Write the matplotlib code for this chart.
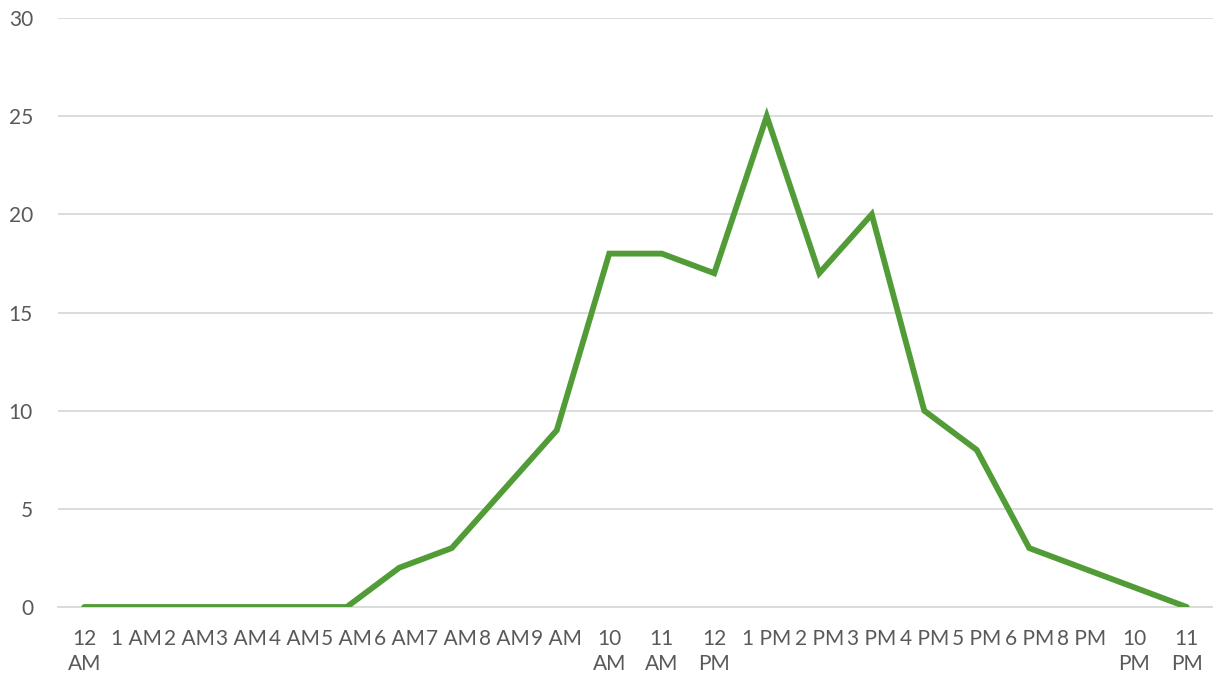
import matplotlib
matplotlib.use("Agg")
import matplotlib.pyplot as plt

# hour labels (7 PM and 9 PM are not in the data)
hours = ["12 AM", "1 AM", "2 AM", "3 AM", "4 AM", "5 AM", "6 AM", "7 AM",
         "8 AM", "9 AM", "10 AM", "11 AM", "12 PM", "1 PM", "2 PM", "3 PM",
         "4 PM", "5 PM", "6 PM", "8 PM", "10 PM", "11 PM"]
counts = [0, 0, 0, 0, 0, 0, 2, 3, 6, 9, 18, 18, 17, 25, 17, 20, 10, 8, 3, 2, 1, 0]

y_ticks = [0, 5, 10, 15, 20, 25, 30]

TEXT = "#595959"
GRID = "#d9d9d9"
LINE = "#529c37"

plt.rcParams["font.family"] = ["Lato", "DejaVu Sans"]

fig = plt.figure(figsize=(12.13, 6.81), dpi=100)
ax = fig.add_axes([58 / 1213, 1 - 607 / 681, 1155 / 1213, (607 - 18) / 681])

x = list(range(len(hours)))
ax.plot(x, counts, color=LINE, linewidth=4.2, solid_capstyle="round",
        solid_joinstyle="miter", zorder=3)

ax.set_xlim(-0.5, len(hours) - 0.5)
ax.set_ylim(0, 30)
ax.set_yticks(y_ticks)
ax.yaxis.grid(True, color=GRID, linewidth=1.3)
ax.set_axisbelow(True)

# Excel wraps the two-digit labels onto two lines
labels = [h.replace(" ", "\n") if len(h.split()[0]) == 2 else h for h in hours]
ax.set_xticks(x)
ax.set_xticklabels(labels, va="top", linespacing=1.3)

for s in ["top", "right", "left"]:
    ax.spines[s].set_visible(False)
ax.spines["bottom"].set_color(GRID)
ax.spines["bottom"].set_linewidth(1.3)

ax.tick_params(axis="both", length=0, labelsize=15, colors=TEXT)
ax.tick_params(axis="x", pad=16)
ax.tick_params(axis="y", pad=18)

fig.savefig("out.png", dpi=100)
